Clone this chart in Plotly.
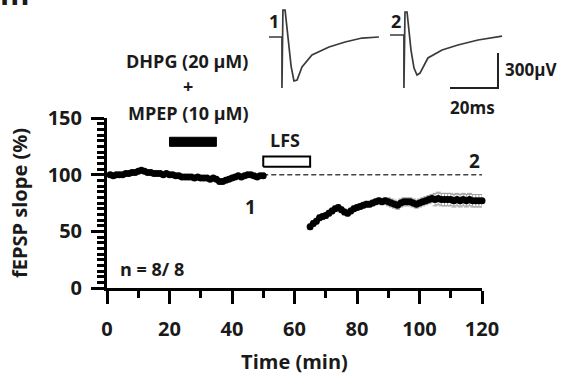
import plotly.graph_objects as go

W, H = 561, 375

# ---------------- data ----------------
baseline_time = list(range(1, 51))
baseline_slope = [100, 99, 100, 100, 100, 101, 101, 102, 102, 103,
                  104, 103, 102, 102, 101, 101, 101, 100, 101, 100,
                  100, 99, 99, 98, 98, 98, 98, 97, 98, 97,
                  97, 97, 96, 97, 96, 94, 94, 95, 96, 97,
                  98, 99, 98, 99, 100, 100, 99, 98, 99, 99]
baseline_sem = [1.5] * 50

post_time = list(range(65, 121))
post_slope = [54, 57, 59, 62, 63, 64, 66, 68, 70, 71,
              69, 67, 66, 68, 70, 71, 72, 73, 74, 74,
              75, 76, 77, 76, 77, 76, 75, 74, 73, 75,
              76, 76, 76, 75, 74, 75, 76, 77, 78, 79,
              78, 79, 78, 78, 78, 78, 77, 78, 77, 78,
              77, 78, 77, 77, 77, 77]
post_sem = [2.5] * 25 + [3.5] * 15 + [5.5] * 16

drug_window = [20, 35]      # DHPG + MPEP application (min)
lfs_window = [50, 65]       # LFS (min)
reference_level = 100       # % baseline
reference_span = [50, 120]

x_ticks = [0, 20, 40, 60, 80, 100, 120]
y_ticks = [0, 50, 100, 150]

# example traces (ms, microvolts)
trace1_ms = [0, 5.4, 5.4, 5.8, 6.7, 7.9, 9.2, 10.4, 11.7, 13.75, 17.9, 25, 31.7, 38.75, 45.8]
trace1_uv = [0, 0, -437, 231, 231, -26, -249, -377, -369, -257, -154, -86, -43, -9, 0]
trace2_ms = [0, 5.8, 5.8, 6.25, 7.1, 8.75, 10, 11.25, 12.5, 15.8, 21.7, 28.3, 36.7, 46.7]
trace2_uv = [0, 0, -454, 197, 197, -129, -283, -343, -326, -197, -129, -86, -43, -9]
scale_ms = 20
scale_uv = 300


def px(x):
    return x / W


def py(y):
    return 1 - y / H


FONT = "Open Sans"
BLACK = "black"

fig = go.Figure()

fig.add_trace(go.Scatter(
    x=reference_span, y=[reference_level, reference_level], mode="lines",
    line=dict(color="#444444", width=1.5, dash="5px,3px"),
    xaxis="x", yaxis="y", showlegend=False, hoverinfo="skip"))

for t, v, e in [(baseline_time, baseline_slope, baseline_sem),
                (post_time, post_slope, post_sem)]:
    fig.add_trace(go.Scatter(
        x=t, y=v, mode="markers",
        marker=dict(color=BLACK, size=7),
        error_y=dict(type="data", array=e, color="#a0a0a0", thickness=1, width=2.5),
        xaxis="x", yaxis="y", showlegend=False, cliponaxis=False))

# application bars
fig.add_trace(go.Scatter(
    x=[drug_window[0], drug_window[1], drug_window[1], drug_window[0], drug_window[0]],
    y=[125, 125, 133, 133, 125], mode="lines", fill="toself",
    fillcolor=BLACK, line=dict(color=BLACK, width=1),
    xaxis="x", yaxis="y", showlegend=False, cliponaxis=False, hoverinfo="skip"))
fig.add_trace(go.Scatter(
    x=[lfs_window[0], lfs_window[1], lfs_window[1], lfs_window[0], lfs_window[0]],
    y=[107, 107, 116, 116, 107], mode="lines", fill="toself",
    fillcolor="white", line=dict(color=BLACK, width=2),
    xaxis="x", yaxis="y", showlegend=False, cliponaxis=False, hoverinfo="skip"))

# inset traces
fig.add_trace(go.Scatter(x=trace1_ms, y=trace1_uv, mode="lines",
                         line=dict(color="#3a3a3a", width=1.7),
                         xaxis="x2", yaxis="y2", showlegend=False, cliponaxis=False))
fig.add_trace(go.Scatter(x=trace2_ms, y=trace2_uv, mode="lines",
                         line=dict(color="#3a3a3a", width=1.7),
                         xaxis="x3", yaxis="y3", showlegend=False, cliponaxis=False))
corner_t, corner_v = 45, -454
fig.add_trace(go.Scatter(x=[corner_t - scale_ms, corner_t, corner_t],
                         y=[corner_v, corner_v, corner_v + scale_uv], mode="lines",
                         line=dict(color="#222222", width=2),
                         xaxis="x3", yaxis="y3", showlegend=False, cliponaxis=False))

axis_common = dict(showline=True, linewidth=3, linecolor=BLACK, mirror=False,
                   ticks="outside", tickwidth=3, tickcolor=BLACK, ticklen=13,
                   showgrid=False, zeroline=False, automargin=False,
                   tickfont=dict(family=FONT, size=20, color="#1a1a1a", weight="bold"))

fig.update_layout(
    width=W, height=H, margin=dict(l=0, r=0, t=0, b=0),
    paper_bgcolor="white", plot_bgcolor="white",
    font=dict(family=FONT, color="#1a1a1a"),
    xaxis=dict(domain=[px(107), px(482)], range=[0, 120], tickvals=x_ticks,
               ticklabelstandoff=8,
               minor=dict(dtick=10, ticklen=7, tickwidth=3, tickcolor=BLACK, ticks="outside"),
               title=dict(text="Time (min)", standoff=14,
                          font=dict(family=FONT, size=20, weight="bold")),
               anchor="y", **axis_common),
    yaxis=dict(domain=[py(288), py(118)], range=[0, 150], tickvals=y_ticks,
               ticklabelstandoff=5,
               minor=dict(dtick=5, ticklen=7, tickwidth=3, tickcolor=BLACK, ticks="outside"),
               title=dict(text="fEPSP slope (%)",
                          font=dict(family=FONT, size=20, weight="bold")),
               anchor="x", **axis_common),
    xaxis2=dict(domain=[px(260), px(385)], range=[-3.75, 48.33], visible=False, anchor="y2"),
    yaxis2=dict(domain=[py(100), 1], range=[-540, 317], visible=False, anchor="x2"),
    xaxis3=dict(domain=[px(385), px(520)], range=[-2.083, 54.17], visible=False, anchor="y3"),
    yaxis3=dict(domain=[py(100), 1], range=[-557, 300], visible=False, anchor="x3"),
)


def label(text, x, y, size=19, xanchor="center"):
    fig.add_annotation(text=text, x=px(x), y=py(y), xref="paper", yref="paper",
                       showarrow=False, xanchor=xanchor, yanchor="middle",
                       font=dict(family=FONT, size=size, color="#1a1a1a", weight="bold"))


label("DHPG (20 µM)", 187, 61, 18)
label("+", 188, 86, 18)
label("MPEP (10 µM)", 188, 113, 18)
label("LFS", 285, 140, 18)
label("1", 250, 207, 19)
label("2", 474, 161, 19)
label("n = 8/ 8", 152, 269, 18)
label("1", 274, 21, 18)
label("2", 396, 21, 18)
label("300µV", 503, 70, 17, xanchor="left")
label("20ms", 472, 107, 17)
label("m", 14, -6, 30)

fig.write_html("out.html", config={"displayModeBar": False},
               post_script="document.body.style.margin='0';")
